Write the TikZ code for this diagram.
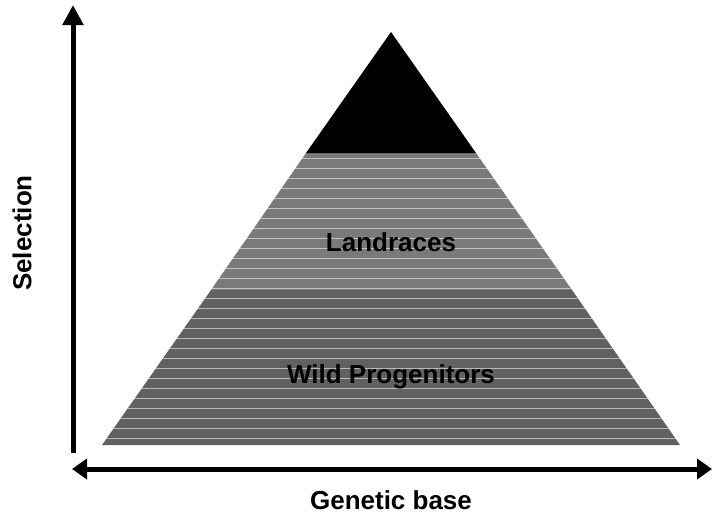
\documentclass[tikz,border=0pt]{standalone}
\usepackage{fontspec}
\setmainfont{Liberation Sans}
\usetikzlibrary{arrows.meta}
\tikzset{
  axis/.style={line width=5pt, draw=black},
  lbl/.style={font=\fontsize{26}{30}\selectfont\bfseries, text=black, inner sep=0pt},
  stripe/.style={white, opacity=0.55, line width=1pt}
}
\begin{document}
\begin{tikzpicture}[x=1pt,y=-1pt]
\useasboundingbox (0,0) rectangle (712,523);
% triangle corners
\coordinate (apex) at (391,32);
\coordinate (bl) at (102,445);
\coordinate (br) at (680,445);
\coordinate (tl) at (306,153);
\coordinate (tr) at (476,153);
\coordinate (ml) at (211,290);
\coordinate (mr) at (572,290);
% bands
\fill[black!52] (tl) -- (tr) -- (mr) -- (ml) -- cycle;
\fill[black!62] (ml) -- (mr) -- (br) -- (bl) -- cycle;
\begin{scope}
  \clip (tl) -- (tr) -- (br) -- (bl) -- cycle;
  \foreach \yy in {158,168,...,445} {
    \draw[stripe] (90,\yy) -- (700,\yy);
  }
\end{scope}
\fill[black] (apex) -- (tr) -- (tl) -- cycle;
% labels
\node[lbl] (land) at (391,242) {Landraces};
\node[lbl] (wild) at (391,377) {Wild Progenitors};
% axes
\coordinate (vbot) at (73,453);
\coordinate (vtop) at (73,5);
\coordinate (hl) at (72,469);
\coordinate (hr) at (712,469);
\draw[axis,-{Triangle[length=20pt,width=20pt]}] (vbot) -- (vtop);
\draw[axis,{Triangle[length=15pt,width=20pt]}-{Triangle[length=15pt,width=20pt]}] (hl) -- (hr);
\node[lbl,rotate=90] (sel) at (22,233) {Selection};
\node[lbl] (gen) at (391,500) {Genetic base};
\end{tikzpicture}
\end{document}
